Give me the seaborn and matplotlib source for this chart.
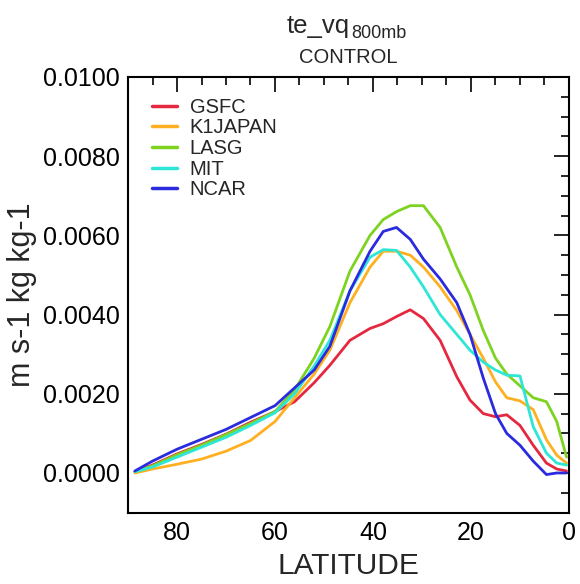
#!/usr/bin/env python3
"""
te_vq at 800mb, CONTROL run - model comparison by latitude
"""

import pandas as pd
import matplotlib
matplotlib.use("Agg")
import matplotlib.pyplot as plt
import seaborn as sns
from matplotlib.ticker import MultipleLocator, FormatStrFormatter

# ------------------------------------------------------------
# Data
# ------------------------------------------------------------
latitude = [88.6, 85, 80, 75, 70, 65, 60, 56, 52, 48.8, 44.7, 40.6, 37.9, 35.2,
            32.4, 29.7, 26.3, 22.9, 20.2, 17.5, 15, 12.7, 10, 7.3, 4.6, 2.5, 0.5]

gsfc = [0.00003, 0.0002, 0.00048, 0.00072, 0.00098, 0.00128, 0.00155, 0.0018,
        0.00228, 0.00272, 0.00335, 0.00365, 0.00377, 0.00395, 0.00412, 0.0039,
        0.00335, 0.00243, 0.00184, 0.0015, 0.00142, 0.00147, 0.0012, 0.0007,
        0.00025, 0.0001, 0.00005]

k1japan = [0.0, 0.0001, 0.00022, 0.00035, 0.00055, 0.00082, 0.0013, 0.0019,
           0.0025, 0.0031, 0.0043, 0.0052, 0.0056, 0.0056, 0.0055, 0.0052,
           0.0047, 0.0041, 0.0035, 0.0029, 0.0023, 0.0019, 0.00182, 0.0016,
           0.00084, 0.00045, 0.00025]

lasg = [0.00003, 0.00018, 0.00046, 0.0007, 0.00097, 0.00125, 0.00155, 0.0021,
        0.0029, 0.0037, 0.0051, 0.006, 0.0064, 0.0066, 0.00675, 0.00675,
        0.0062, 0.0052, 0.0045, 0.0036, 0.0029, 0.0025, 0.0022, 0.0019,
        0.0018, 0.0013, 0.0004]

mit = [0.00003, 0.00015, 0.0004, 0.00065, 0.0009, 0.0012, 0.00152, 0.002,
       0.0027, 0.00335, 0.0046, 0.00545, 0.00564, 0.00562, 0.0052, 0.0047,
       0.004, 0.0035, 0.0031, 0.0028, 0.0026, 0.00247, 0.00245, 0.00117,
       0.0005, 0.00025, 0.0002]

ncar = [0.00005, 0.0003, 0.0006, 0.00085, 0.0011, 0.0014, 0.0017, 0.00215,
        0.0026, 0.0032, 0.0046, 0.0056, 0.0061, 0.0062, 0.0059, 0.0054,
        0.0049, 0.0043, 0.0035, 0.0024, 0.0015, 0.001, 0.0007, 0.0003,
        -0.00004, 0.0, 0.0]

models = ["GSFC", "K1JAPAN", "LASG", "MIT", "NCAR"]
colors = ["#e5283f", "#ffb020", "#7ed321", "#2ee6d6", "#2a2ade"]

# long format for seaborn
frames = []
for name, vals in zip(models, [gsfc, k1japan, lasg, mit, ncar]):
    frames.append(pd.DataFrame({"lat": latitude, "value": vals, "model": name}))
df = pd.concat(frames, ignore_index=True)

# ------------------------------------------------------------
# Plot
# ------------------------------------------------------------
sns.set_style("white")
plt.rcParams["font.family"] = ["Liberation Sans", "DejaVu Sans"]

fig = plt.figure(figsize=(5.8, 5.84), dpi=100)
ax = fig.add_axes([0.2207, 0.1223, 0.7603, 0.7459])

sns.lineplot(data=df, x="lat", y="value", hue="model", hue_order=models,
             palette=dict(zip(models, colors)), linewidth=2.0, sort=False,
             estimator=None, ax=ax)

ax.set_xlim(90, 0)
ax.set_ylim(-0.001, 0.01)
ax.xaxis.set_major_locator(MultipleLocator(20))
ax.xaxis.set_minor_locator(MultipleLocator(5))
ax.yaxis.set_major_locator(MultipleLocator(0.002))
ax.yaxis.set_minor_locator(MultipleLocator(0.0005))
ax.yaxis.set_major_formatter(FormatStrFormatter("%.4f"))

ax.tick_params(which="both", direction="in", top=True, right=True,
               width=1.2, colors="black")
ax.tick_params(which="major", length=10.5, labelsize=18, pad=6)
ax.tick_params(which="minor", length=5.5)
for s in ax.spines.values():
    s.set_linewidth(1.5)
    s.set_color("black")

ax.set_xlabel("LATITUDE", fontsize=21.5, labelpad=5)
ax.set_ylabel("m s-1 kg kg-1", fontsize=22, labelpad=4)

leg = ax.legend(loc="upper left", bbox_to_anchor=(0.055, 0.952), frameon=False,
                fontsize=14.5, handlelength=1.25, handletextpad=0.6,
                labelspacing=0.08, borderpad=0, borderaxespad=0)
for line in leg.get_lines():
    line.set_linewidth(2.5)

# title: te_vq with subscript level, then run name
fig.text(350 / 580, 1 - 33 / 584, "te_vq", ha="right", va="baseline", fontsize=18.5)
fig.text(351 / 580, 1 - 38 / 584, "800mb", ha="left", va="baseline", fontsize=13)
fig.text(348.5 / 580, 1 - 63 / 584, "CONTROL", ha="center", va="baseline", fontsize=14.5)

fig.savefig("out.png", dpi=100)
